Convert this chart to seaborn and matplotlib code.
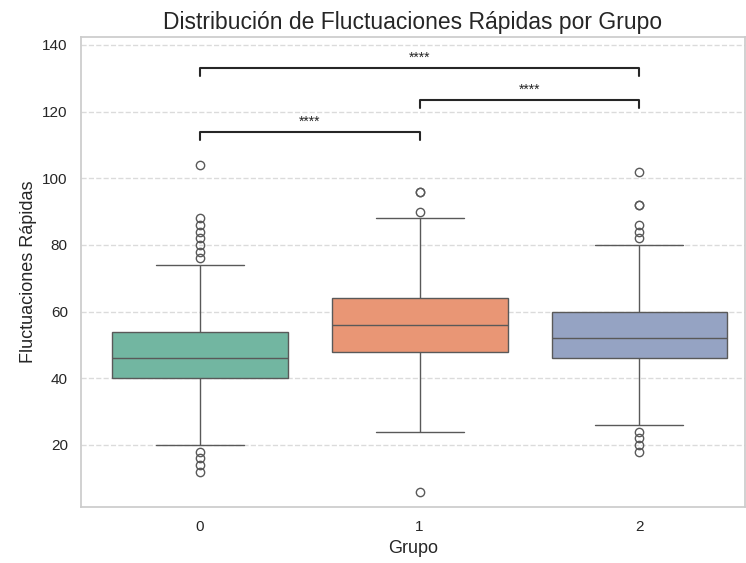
import numpy as np
import pandas as pd
import matplotlib
matplotlib.use("Agg")
import matplotlib.pyplot as plt
import seaborn as sns

# valores (cuartiles, bigotes y atipicos)
grupo_0 = [12, 14, 16, 18, 20, 26, 30, 32, 34, 36, 38, 40, 40, 40, 42, 42, 42, 44, 44, 44,
           44, 46, 46, 46, 48, 48, 50, 50, 50, 52, 52, 54, 54, 54, 58, 64, 74, 76, 78, 80,
           82, 84, 86, 88, 104]
grupo_1 = [6, 24, 28, 32, 36, 38, 40, 42, 44, 46, 46, 48, 48, 50, 50, 52, 52, 52, 54, 54,
           54, 56, 56, 56, 58, 58, 58, 60, 60, 62, 62, 62, 64, 64, 66, 68, 70, 72, 76, 80,
           84, 88, 90, 96, 96]
grupo_2 = [18, 20, 22, 24, 26, 30, 34, 38, 40, 42, 44, 46, 46, 46, 48, 48, 48, 50, 50, 50,
           52, 52, 52, 52, 54, 54, 54, 56, 56, 58, 58, 60, 60, 60, 64, 66, 70, 74, 80, 82,
           84, 86, 92, 92, 102]
grupos = ["0", "1", "2"]

# comparaciones significativas
comparaciones = [("0", "1"), ("1", "2"), ("0", "2")]
alturas = [114.0, 123.5, 133.2]
etiquetas = ["****", "****", "****"]

df = pd.DataFrame({
    "Grupo": np.repeat(grupos, [len(grupo_0), len(grupo_1), len(grupo_2)]),
    "Fluctuaciones Rápidas": grupo_0 + grupo_1 + grupo_2,
})

sns.set_theme(style="whitegrid")
plt.rcParams["font.family"] = ["Liberation Sans", "DejaVu Sans"]

fig = plt.figure(figsize=(7.46, 5.63), dpi=100)
ax = fig.add_axes([81 / 746, 1 - 507 / 563, (745 - 81) / 746, (507 - 37) / 563])

sns.boxplot(data=df, x="Grupo", y="Fluctuaciones Rápidas", hue="Grupo",
            palette="Set2", legend=False, ax=ax, order=grupos)

pos = {g: i for i, g in enumerate(grupos)}
tip = 2.4
for (a, b), h, txt in zip(comparaciones, alturas, etiquetas):
    x1, x2 = pos[a], pos[b]
    ax.plot([x1, x1, x2, x2], [h - tip, h, h, h - tip], color="#262626", lw=1.5)
    ax.text((x1 + x2) / 2, h + 1.0, txt, ha="center", va="bottom", fontsize=10,
            color="#262626")

ax.set_xlim(-0.54, 2.48)
ax.set_ylim(1.4, 142.4)
ax.set_yticks([20, 40, 60, 80, 100, 120, 140])
ax.xaxis.grid(False)
ax.yaxis.grid(True, linestyle="--", alpha=0.7)
ax.set_title("Distribución de Fluctuaciones Rápidas por Grupo", fontsize=16.5)
ax.set_xlabel("Grupo", fontsize=13)
ax.set_ylabel("Fluctuaciones Rápidas", fontsize=13)
ax.tick_params(labelsize=11)

fig.savefig("out.png", dpi=100)
